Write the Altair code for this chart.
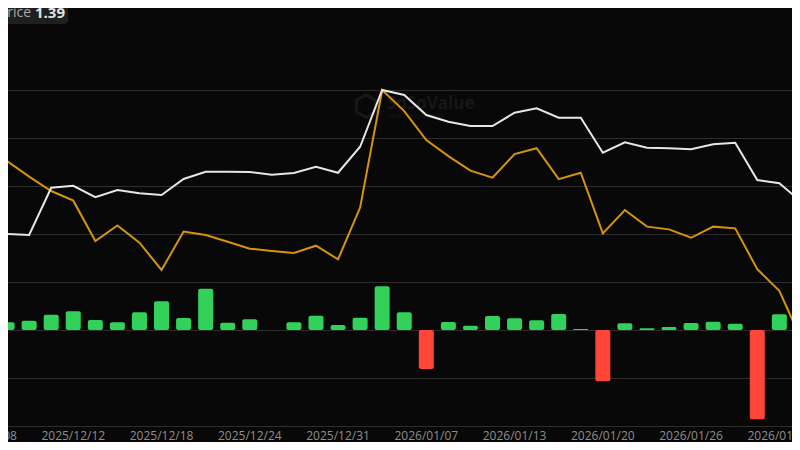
import altair as alt
import pandas as pd

# ---- data ----
dates = [
    "2025/12/08", "2025/12/09", "2025/12/10", "2025/12/11", "2025/12/12",
    "2025/12/15", "2025/12/16", "2025/12/17", "2025/12/18", "2025/12/19",
    "2025/12/22", "2025/12/23", "2025/12/24", "2025/12/26", "2025/12/29",
    "2025/12/30", "2025/12/31", "2026/01/02", "2026/01/05", "2026/01/06",
    "2026/01/07", "2026/01/08", "2026/01/09", "2026/01/12", "2026/01/13",
    "2026/01/14", "2026/01/15", "2026/01/16", "2026/01/20", "2026/01/21",
    "2026/01/22", "2026/01/23", "2026/01/26", "2026/01/27", "2026/01/28",
    "2026/01/29", "2026/01/30", "2026/02/02",
]

# daily net inflow (million USD)
net_inflow = [
    None, 16.0, 19.4, 31.9, 39.0, 20.8, 16.0, 36.9, 59.8, 25.0,
    86.0, 15.2, 22.3, 0.0, 16.0, 29.8, 10.4, 25.6, 91.0, 36.9,
    -81.3, 16.7, 9.0, 29.2, 24.4, 20.2, 33.3, 2.1, -106.9, 14.0,
    3.5, 6.3, 14.6, 17.3, 13.1, -186.0, 32.7, None,
]

# total net assets (billion USD)
net_assets = [
    None, 1.000, 0.996, 1.185, 1.193, 1.147, 1.176, 1.163, 1.156, 1.220,
    1.249, 1.249, 1.248, 1.237, 1.244, 1.269, 1.245, 1.349, 1.576, 1.556,
    1.476, 1.449, 1.432, 1.432, 1.485, 1.503, 1.465, 1.465, 1.325, 1.367,
    1.345, 1.343, 1.339, 1.359, 1.365, 1.216, 1.203, 1.128,
]

# price (USD)
price = [
    None, 2.113, 2.050, 1.992, 1.953, 1.790, 1.853, 1.783, 1.673, 1.828,
    1.814, 1.787, 1.759, 1.750, 1.742, 1.771, 1.716, 1.925, 2.400, 2.315,
    2.198, 2.133, 2.074, 2.046, 2.141, 2.165, 2.040, 2.066, 1.821, 1.915,
    1.848, 1.837, 1.803, 1.848, 1.841, 1.676, 1.589, 1.390,
]

axis_dates = [
    "2025/12/08", "2025/12/12", "2025/12/18", "2025/12/24", "2025/12/31",
    "2026/01/07", "2026/01/13", "2026/01/20", "2026/01/26", "2026/01/30",
]

price_label = "Price"
price_value = "1.39"
brand = "SoSoValue"
brand_site = "sosovalue.com"

# ---- styling ----
BG = "#080808"
GRID = "#2d2d2d"
GREEN = "#32d15a"
RED = "#ff4538"
ORANGE = "#d4950c"
WHITE = "#e6e6e6"
WM = "#171717"
FONT = "Open Sans"

df = pd.DataFrame({
    "i": list(range(len(dates))),
    "date": dates,
    "flow": net_inflow,
    "assets": net_assets,
    "price": price,
})

lab = pd.DataFrame({"label": axis_dates})
lab["i"] = [dates.index(d) for d in axis_dates]

xscale = alt.Scale(domain=[1.2685, 36.3466], nice=False, zero=False)
X = alt.X("i:Q", scale=xscale, axis=None)

base = alt.Chart(df)

bars = base.mark_bar(size=15, cornerRadius=2, clip=True).encode(
    x=X,
    y=alt.Y(
        "flow:Q",
        stack=None,
        scale=alt.Scale(domain=[-200, 670.8], nice=False, zero=True),
        axis=alt.Axis(
            values=[-200, -100, 0, 100, 200, 300, 400, 500],
            grid=True, gridColor=GRID, gridWidth=1,
            labels=False, ticks=False, domain=False, title=None,
        ),
    ),
    color=alt.condition("datum.flow < 0", alt.value(RED), alt.value(GREEN)),
)

orange_line = base.mark_line(color=ORANGE, strokeWidth=2, clip=True).encode(
    x=X,
    y=alt.Y("price:Q", scale=alt.Scale(domain=[1.0426, 2.7313], nice=False, zero=False), axis=None),
)

white_line = base.mark_line(color=WHITE, strokeWidth=2, clip=True).encode(
    x=X,
    y=alt.Y("assets:Q", scale=alt.Scale(domain=[0.232, 1.904], nice=False, zero=False), axis=None),
)

xlabels = alt.Chart(lab).mark_text(
    align="center", baseline="middle", fontSize=12, font=FONT, color="#8e8e8e"
).encode(
    x=alt.X("i:Q", scale=xscale, axis=None),
    y=alt.value(427.5),
    text="label:N",
)

wm = pd.DataFrame({"brand": [brand], "site": [brand_site]})
wm_logo = alt.Chart(wm).mark_point(
    shape="M0,-1L0.866,-0.5L0.866,0.5L0,1L-0.866,0.5L-0.866,-0.5Z",
    size=500, filled=False, stroke=WM, strokeWidth=3, opacity=1,
).encode(x=alt.value(358), y=alt.value(98))
wm_brand = alt.Chart(wm).mark_text(
    align="left", baseline="middle", fontSize=17, fontWeight="bold", font=FONT, color=WM
).encode(x=alt.value(379), y=alt.value(96), text="brand:N")
wm_site = alt.Chart(wm).mark_text(
    align="left", baseline="middle", fontSize=8, font=FONT, color=WM
).encode(x=alt.value(380), y=alt.value(108), text="site:N")

tag = pd.DataFrame({"name": [price_label], "val": [price_value]})
tag_box = alt.Chart(tag).mark_rect(color="#1f1f1f", cornerRadius=4).encode(
    x=alt.value(-8), x2=alt.value(60), y=alt.value(-8), y2=alt.value(16)
)
tag_name = alt.Chart(tag).mark_text(
    align="right", baseline="middle", fontSize=14, font=FONT, color="#a8a8a8"
).encode(x=alt.value(23), y=alt.value(5), text="name:N")
tag_val = alt.Chart(tag).mark_text(
    align="left", baseline="middle", fontSize=15, fontWeight="bold", font=FONT, color="#e2e2e2"
).encode(x=alt.value(27), y=alt.value(5), text="val:N")

chart = alt.layer(
    wm_logo, wm_brand, wm_site,
    bars, orange_line, white_line,
    xlabels, tag_box, tag_name, tag_val,
).resolve_scale(y="independent").properties(
    width=784,
    height=418,
    autosize=alt.AutoSizeParams(type="none"),
    padding={"left": 0, "top": 0, "right": 0, "bottom": 16},
    background=BG,
).configure_view(strokeWidth=0)

chart.save("out.html", embed_options={"renderer": "svg", "actions": False})
